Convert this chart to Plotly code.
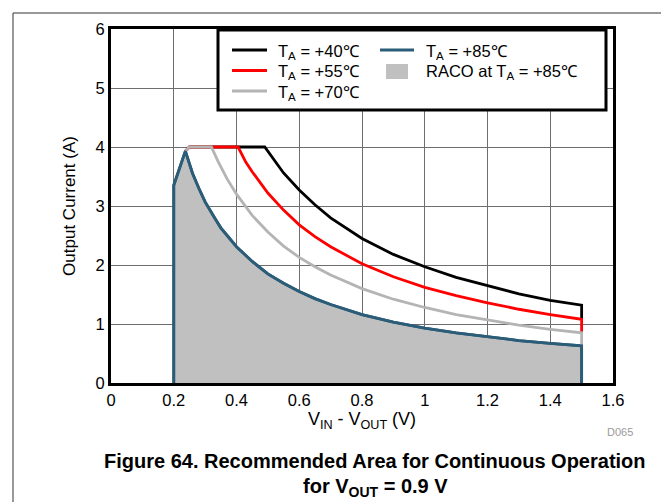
import plotly.graph_objects as go

# ---- data ----
x_40 = [0.237, 0.25, 0.49, 0.52, 0.55, 0.6, 0.65, 0.7, 0.8, 0.9, 1.0, 1.1, 1.2, 1.3, 1.4, 1.5, 1.5]
y_40 = [3.93, 4.0, 4.0, 3.77, 3.56, 3.27, 3.02, 2.8, 2.45, 2.18, 1.97, 1.79, 1.65, 1.51, 1.40, 1.32, 1.08]

x_55 = [0.237, 0.25, 0.405, 0.43, 0.45, 0.5, 0.55, 0.6, 0.65, 0.7, 0.8, 0.9, 1.0, 1.1, 1.2, 1.3, 1.4, 1.5, 1.5]
y_55 = [3.93, 4.0, 4.0, 3.74, 3.58, 3.22, 2.93, 2.68, 2.48, 2.31, 2.02, 1.8, 1.62, 1.48, 1.36, 1.25, 1.16, 1.08, 0.85]

x_70 = [0.237, 0.25, 0.32, 0.34, 0.37, 0.4, 0.45, 0.5, 0.55, 0.6, 0.65, 0.7, 0.8, 0.9, 1.0, 1.1, 1.2, 1.3,
        1.4, 1.5, 1.5]
y_70 = [3.93, 4.0, 4.0, 3.77, 3.46, 3.2, 2.84, 2.56, 2.32, 2.13, 1.97, 1.83, 1.6, 1.42, 1.28, 1.16, 1.07, 0.98,
        0.91, 0.85, 0.63]

x_85 = [0.2, 0.2, 0.237, 0.25, 0.26, 0.28, 0.3, 0.33, 0.35, 0.4, 0.45, 0.5, 0.55, 0.6, 0.65, 0.7, 0.8, 0.9,
        1.0, 1.1, 1.2, 1.3, 1.4, 1.5, 1.5]
y_85 = [0.0, 3.35, 3.93, 3.7, 3.55, 3.3, 3.07, 2.8, 2.63, 2.31, 2.06, 1.85, 1.69, 1.55, 1.43, 1.33, 1.16, 1.03,
        0.93, 0.85, 0.78, 0.72, 0.67, 0.63, 0.0]

x_ticks = [0, 0.2, 0.4, 0.6, 0.8, 1.0, 1.2, 1.4, 1.6]
x_ticklabels = ["0", "0.2", "0.4", "0.6", "0.8", "1", "1.2", "1.4", "1.6"]
y_ticks = [0, 1, 2, 3, 4, 5, 6]
y_ticklabels = ["0", "1", "2", "3", "4", "5", "6"]

legend_labels = ["T<sub>A</sub> = +40℃", "T<sub>A</sub> = +55℃", "T<sub>A</sub> = +70℃",
                 "T<sub>A</sub> = +85℃", "RACO at T<sub>A</sub> = +85℃"]

C40, C55, C70, C85, CFILL = "#000000", "#ff0000", "#b4b4b4", "#2b5c78", "#c0c0c0"
FONT = "Liberation Sans, Arial, sans-serif"

W, H = 669, 502
L, R, T, B = 103, 64, 21, 127
PW, PH = W - L - R, H - T - B


def px(xp):
    return (xp - L) / PW


def py(yp):
    return (H - B - yp) / PH


fig = go.Figure()
fig.add_trace(go.Scatter(x=x_85, y=y_85, mode="lines", fill="toself", fillcolor=CFILL,
                         line=dict(color=C85, width=2.8), showlegend=False))
fig.add_trace(go.Scatter(x=x_40, y=y_40, mode="lines", line=dict(color=C40, width=2.8), showlegend=False))
fig.add_trace(go.Scatter(x=x_55, y=y_55, mode="lines", line=dict(color=C55, width=2.8), showlegend=False))
fig.add_trace(go.Scatter(x=x_70, y=y_70, mode="lines", line=dict(color=C70, width=2.8), showlegend=False))
fig.add_trace(go.Scatter(x=x_85, y=y_85, mode="lines", line=dict(color=C85, width=2.8), showlegend=False))

shapes = []
annotations = []
# outer figure border (top and left)
shapes.append(dict(type="line", xref="paper", yref="paper", x0=px(5), x1=px(W + 5), y0=py(5), y1=py(5),
                   line=dict(color="#333333", width=1)))
shapes.append(dict(type="line", xref="paper", yref="paper", x0=px(5), x1=px(5), y0=py(5), y1=py(H + 5),
                   line=dict(color="#333333", width=1)))
# legend box
shapes.append(dict(type="rect", xref="paper", yref="paper", x0=px(210), x1=px(598), y0=py(22), y1=py(102),
                   fillcolor="white", line=dict(color="black", width=3), layer="above"))
# legend entries
entries = [
    (legend_labels[0], C40, 224, 259, 268, 42),
    (legend_labels[1], C55, 224, 259, 268, 62.5),
    (legend_labels[2], C70, 224, 259, 268, 83),
    (legend_labels[3], C85, 372, 406, 416, 42),
]
LFS = 16.5
for lab, col, lx0, lx1, tx, yy in entries:
    shapes.append(dict(type="line", xref="paper", yref="paper", x0=px(lx0), x1=px(lx1), y0=py(yy), y1=py(yy),
                       line=dict(color=col, width=3), layer="above"))
    annotations.append(dict(text=lab, xref="paper", yref="paper", x=px(tx), y=py(yy + 1.5), xanchor="left",
                            yanchor="middle", showarrow=False, font=dict(family=FONT, size=LFS, color="black")))
shapes.append(dict(type="rect", xref="paper", yref="paper", x0=px(378), x1=px(400), y0=py(56), y1=py(71),
                   fillcolor=CFILL, line=dict(width=0), layer="above"))
annotations.append(dict(text=legend_labels[4], xref="paper", yref="paper", x=px(416), y=py(64), xanchor="left",
                        yanchor="middle", showarrow=False, font=dict(family=FONT, size=LFS, color="black")))

# document id
annotations.append(dict(text="D065", xref="paper", yref="paper", x=px(612), y=py(424), xanchor="center",
                        yanchor="middle", showarrow=False, font=dict(family=FONT, size=11, color="#9a9a9a")))
# caption
annotations.append(dict(text="<b>Figure 64. Recommended Area for Continuous Operation</b>",
                        xref="paper", yref="paper", x=px(367), y=py(453), xanchor="center", yanchor="middle",
                        showarrow=False, font=dict(family=FONT, size=20, color="black")))
annotations.append(dict(text="<b>for V<sub>OUT</sub> = 0.9 V</b>",
                        xref="paper", yref="paper", x=px(367), y=py(479), xanchor="center", yanchor="middle",
                        showarrow=False, font=dict(family=FONT, size=20, color="black")))

fig.update_layout(
    width=W, height=H,
    margin=dict(l=L, r=R, t=T, b=B, pad=0),
    paper_bgcolor="white", plot_bgcolor="white",
    font=dict(family=FONT, size=16.5, color="black"),
    showlegend=False,
    shapes=shapes, annotations=annotations,
)
fig.update_xaxes(range=[0, 1.6], tickvals=x_ticks, ticktext=x_ticklabels, showgrid=True,
                 gridcolor="#6e6e6e", gridwidth=1.2, showline=True, linecolor="black", linewidth=3,
                 mirror=True, ticks="", zeroline=False, tickfont=dict(size=16.5),
                 title=dict(text="V<sub>IN</sub> - V<sub>OUT</sub> (V)", standoff=4,
                            font=dict(family=FONT, size=18)))
fig.update_yaxes(range=[0, 6], tickvals=y_ticks, ticktext=y_ticklabels, showgrid=True,
                 gridcolor="#6e6e6e", gridwidth=1.2, showline=True, linecolor="black", linewidth=3,
                 mirror=True, ticks="", zeroline=False, tickfont=dict(size=16.5),
                 title=dict(text="Output Current (A)", standoff=16, font=dict(family=FONT, size=17)))

fig.write_html("out.html")
